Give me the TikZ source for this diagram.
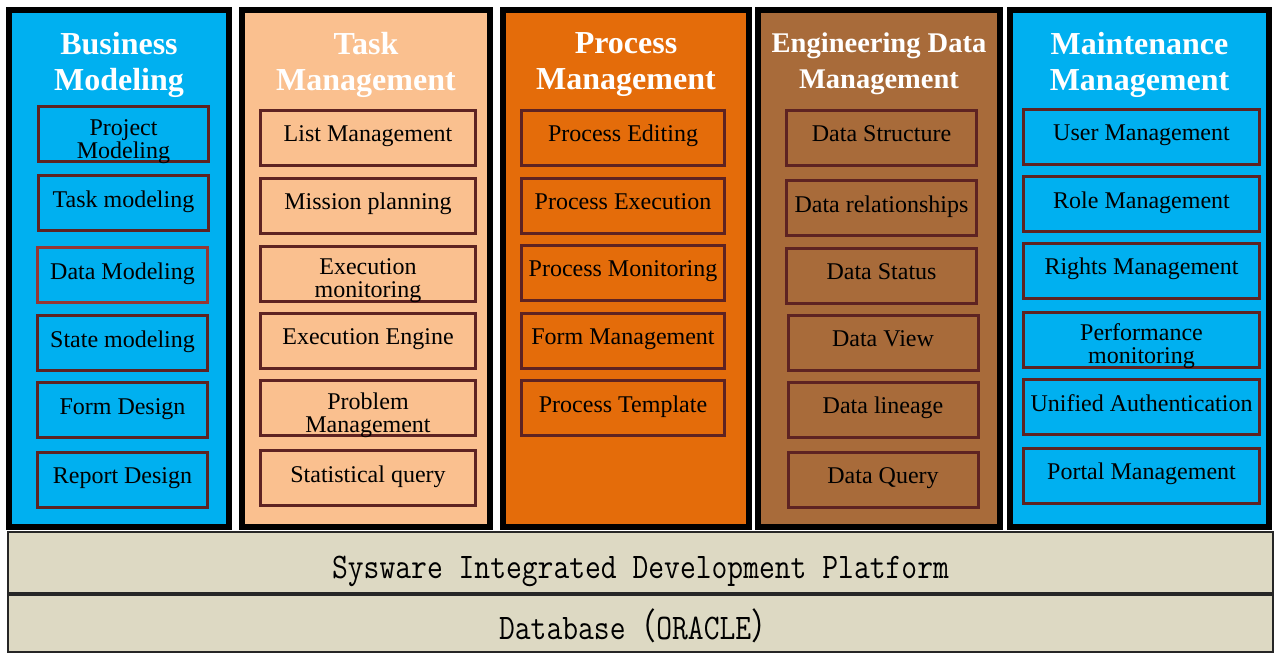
\documentclass[tikz,border=0pt]{standalone}
\usepackage{fontspec}
\setmainfont{Liberation Serif}
\newfontfamily\cjk{Noto Sans CJK SC}
\usetikzlibrary{positioning}
\definecolor{skyblue}{HTML}{00B0F0}
\definecolor{peach}{HTML}{FAC08F}
\definecolor{deeporange}{HTML}{E46C0A}
\definecolor{rustbrown}{HTML}{A86B3A}
\definecolor{itemred}{HTML}{5E2322}
\definecolor{itemredlt}{HTML}{953735}
\definecolor{barbeige}{HTML}{DDD9C3}

\begin{document}
\begin{tikzpicture}[x=1pt, y=-1pt]
\tikzstyle{colbox} = [draw=black, line width=6pt, inner sep=0pt, minimum height=517pt] % column frame
\tikzstyle{coltitle} = [text=white, font=\fontsize{32}{36}\selectfont\bfseries, align=center, inner sep=0pt] % column heading
\tikzstyle{itembox} = [draw=itemred, line width=3pt, inner sep=0pt, minimum height=55pt, font=\fontsize{24}{23}\selectfont, text height=16pt, text depth=8pt] % module box
\tikzstyle{twoline} = [text width=150pt, align=center, text height=16pt, text depth=14pt] % box with two lines
\tikzstyle{bmitem} = [itembox, minimum width=170pt]
\tikzstyle{tmitem} = [itembox, minimum width=215pt]
\tikzstyle{pmitem} = [itembox, minimum width=203pt]
\tikzstyle{edmitem} = [itembox, minimum width=190pt]
\tikzstyle{mmitem} = [itembox, minimum width=236pt]
\tikzstyle{basebar} = [draw=black!85, fill=barbeige, line width=2pt, minimum width=1265pt, inner sep=0pt, font=\ttfamily\fontsize{36}{36}\selectfont, text height=34pt, text depth=2pt] % platform layers

\useasboundingbox (0,0) rectangle (1275,653);

% columns
\node[colbox, fill=skyblue, minimum width=220pt] (BM) at (119,268.5) {};
\node[colbox, fill=peach, minimum width=248pt] (TM) at (366,268.5) {};
\node[colbox, fill=deeporange, minimum width=246pt] (PM) at (626,268.5) {};
\node[colbox, fill=rustbrown, minimum width=242pt] (EDM) at (879,268.5) {};
\node[colbox, fill=skyblue, minimum width=259pt] (MM) at (1139.5,268.5) {};

\node[coltitle, below=25pt of BM.north] (BMt) {Business\\Modeling};
\node[coltitle, below=25pt of TM.north] (TMt) {Task\\Management};
\node[coltitle, below=25pt of PM.north] (PMt) {Process\\Management};
\node[coltitle, below=26pt of EDM.north, font=\fontsize{28.5}{36}\selectfont\bfseries] (EDMt) {Engineering Data\\Management};
\node[coltitle, below=25pt of MM.north] (MMt) {Maintenance\\Management};

% Business Modeling
\node[bmitem, twoline] (BM1) at (123.5,134) {Project\\Modeling};
\node[bmitem] (BM2) at (123.5,203) {Task modeling};
\node[bmitem, draw=itemredlt] (BM3) at (122.5,275) {Data Modeling};
\node[bmitem] (BM4) at (122.5,343) {State modeling};
\node[bmitem] (BM5) at (122.5,410) {Form Design};
\node[bmitem] (BM6) at (122.5,479.5) {Report Design};

% Task Management
\node[tmitem] (TM1) at (368,137.5) {List Management};
\node[tmitem] (TM2) at (368,205.5) {Mission planning};
\node[tmitem, twoline] (TM3) at (368,273.5) {Execution\\monitoring};
\node[tmitem] (TM4) at (368,340.5) {Execution Engine};
\node[tmitem, twoline] (TM5) at (368,408) {Problem\\Management};
\node[tmitem] (TM6) at (368,478) {Statistical query};

% Process Management
\node[pmitem] (PM1) at (623,137.5) {Process Editing};
\node[pmitem] (PM2) at (623,205.5) {Process Execution};
\node[pmitem] (PM3) at (623,272.5) {Process Monitoring};
\node[pmitem] (PM4) at (623,340.5) {Form Management};
\node[pmitem] (PM5) at (623,408) {Process Template};

% Engineering Data Management
\node[edmitem] (EDM1) at (881.5,137.5) {Data Structure};
\node[edmitem] (EDM2) at (881.5,208) {Data relationships};
\node[edmitem] (EDM3) at (881.5,275.5) {Data Status};
\node[edmitem] (EDM4) at (883,342.5) {Data View};
\node[edmitem] (EDM5) at (883,409.5) {Data lineage};
\node[edmitem] (EDM6) at (883,479.5) {Data Query};

% Maintenance Management
\node[mmitem] (MM1) at (1141.5,136.5) {User Management};
\node[mmitem] (MM2) at (1141.5,204) {Role Management};
\node[mmitem] (MM3) at (1141.5,270.5) {Rights Management};
\node[mmitem, twoline] (MM4) at (1141.5,339.5) {Performance\\monitoring};
\node[mmitem] (MM5) at (1141.5,407) {Unified Authentication};
\node[mmitem] (MM6) at (1141.5,475.5) {Portal Management};

% platform layers
\node[basebar, minimum height=61pt] (SIDP) at (640.5,562.5) {\scalebox{0.853}[1]{Sysware Integrated Development Platform}};
\node[basebar, minimum height=57pt] (DB) at (640.5,623.5) {\scalebox{0.853}[1]{Database{\cjk （}ORACLE{\cjk ）}}};
\end{tikzpicture}
\end{document}
